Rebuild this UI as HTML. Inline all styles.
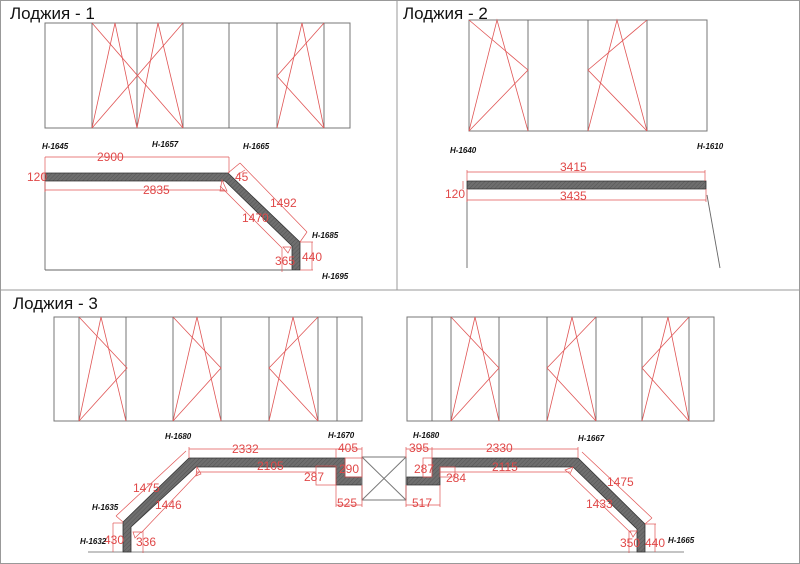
<!DOCTYPE html>
<html><head><meta charset="utf-8"><style>
html,body{margin:0;padding:0;background:#fff}
svg{display:block}
.t{font-family:"Liberation Sans",Arial,sans-serif;font-size:17px;fill:#111}
.d{font-family:"Liberation Sans",Arial,sans-serif;font-size:12px;fill:#e04848}
.h{font-family:"Liberation Sans",Arial,sans-serif;font-size:8px;font-style:italic;font-weight:bold;fill:#111}
.fr{fill:none;stroke:#777;stroke-width:1}
.r{stroke:#e05555;stroke-width:0.8;fill:none}
.dl{stroke:#e05555;stroke-width:0.7;fill:none}
.sl{fill:url(#hat);stroke:#333;stroke-width:0.8}
.k{stroke:#666;stroke-width:0.9;fill:none}
</style></head><body>
<svg width="800" height="564" viewBox="0 0 800 564" xmlns="http://www.w3.org/2000/svg">
<defs>
<pattern id="hat" width="3" height="3" patternUnits="userSpaceOnUse" patternTransform="rotate(45)">
<rect width="3" height="3" fill="#6e6e6e"/><line x1="0" y1="0" x2="0" y2="3" stroke="#555" stroke-width="1"/>
</pattern>
</defs>
<rect x="0.5" y="0.5" width="799" height="563" fill="none" stroke="#999"/>
<line x1="397" y1="0" x2="397" y2="290" stroke="#999"/>
<line x1="0" y1="290" x2="800" y2="290" stroke="#999"/>
<text class="t" x="10" y="19">Лоджия - 1</text>
<text class="t" x="403" y="19">Лоджия - 2</text>
<text class="t" x="13" y="309">Лоджия - 3</text>

<rect class="fr" x="45" y="23" width="305" height="105"/>
<g class="k"><line x1="92" y1="23" x2="92" y2="128"/><line x1="137" y1="23" x2="137" y2="128"/><line x1="183" y1="23" x2="183" y2="128"/><line x1="229" y1="23" x2="229" y2="128"/><line x1="277" y1="23" x2="277" y2="128"/><line x1="324" y1="23" x2="324" y2="128"/></g>
<g class="r">
<polyline points="92,128 115,23 137,128"/><polyline points="137,128 158,23 183,128"/>
<line x1="92" y1="23" x2="183" y2="128"/><line x1="92" y1="128" x2="183" y2="23"/>
<polyline points="277,128 302,23 324,128"/><polyline points="324,23 277,76 324,128"/>
</g>

<polygon class="sl" points="45,173 228,173 300,242 300,270 292,270 292,246 225,181 45,181"/>
<line class="k" x1="45" y1="181" x2="45" y2="270"/><line class="k" x1="45" y1="270" x2="292" y2="270"/>
<g class="dl">
<line x1="45" y1="157" x2="229" y2="157"/><line x1="45" y1="157" x2="45" y2="173"/><line x1="229" y1="157" x2="229" y2="173"/>
<line x1="45" y1="190" x2="225" y2="190"/><line x1="45" y1="181" x2="45" y2="192"/>
<line x1="43" y1="173" x2="43" y2="181"/>
<line x1="240" y1="163" x2="307" y2="232"/><line x1="228" y1="173" x2="240" y2="163"/><line x1="300" y1="242" x2="307" y2="232"/>
<line x1="220" y1="186" x2="282" y2="248"/><polygon points="222,180 227,191 220,191"/>
<line x1="300" y1="242" x2="313" y2="242"/><line x1="312" y1="242" x2="312" y2="270"/><line x1="300" y1="270" x2="313" y2="270"/>
<line x1="282" y1="248" x2="282" y2="272"/><polygon points="283,247 291,247 288,253"/>
<line x1="237" y1="175" x2="245" y2="170"/>
</g>
<text class="d" x="97" y="161">2900</text>
<text class="d" x="143" y="194">2835</text>
<text class="d" x="27" y="181">120</text>
<text class="d" x="235" y="181" font-size="11">45</text>
<text class="d" x="270" y="207">1492</text>
<text class="d" x="242" y="222">1470</text>
<text class="d" x="275" y="265">365</text>
<text class="d" x="302" y="261">440</text>
<text class="h" x="42" y="149">H-1645</text>
<text class="h" x="152" y="147">H-1657</text>
<text class="h" x="243" y="149">H-1665</text>
<text class="h" x="312" y="238">H-1685</text>
<text class="h" x="322" y="279">H-1695</text>

<rect class="fr" x="469" y="20" width="238" height="111"/>
<g class="k"><line x1="528" y1="20" x2="528" y2="131"/><line x1="588" y1="20" x2="588" y2="131"/><line x1="647" y1="20" x2="647" y2="131"/></g>
<g class="r">
<polyline points="469,131 497,20 528,131"/><polyline points="469,20 528,70 469,131"/>
<polyline points="588,131 617,20 647,131"/><polyline points="647,20 588,70 647,131"/>
</g>
<text class="h" x="450" y="153">H-1640</text>
<text class="h" x="697" y="149">H-1610</text>
<polygon class="sl" points="467,181 706,181 706,189 467,189"/>
<line class="k" x1="467" y1="189" x2="467" y2="268"/><line class="k" x1="707" y1="195" x2="720" y2="268"/>
<g class="dl">
<line x1="467" y1="172" x2="705" y2="172"/><line x1="467" y1="170" x2="467" y2="181"/><line x1="705" y1="170" x2="705" y2="181"/>
<line x1="467" y1="200" x2="706" y2="200"/><line x1="467" y1="189" x2="467" y2="202"/><line x1="706" y1="189" x2="706" y2="202"/>
<line x1="463" y1="181" x2="463" y2="189"/>
</g>
<text class="d" x="560" y="171">3415</text>
<text class="d" x="560" y="200">3435</text>
<text class="d" x="445" y="198">120</text>

<rect class="fr" x="54" y="317" width="308" height="104"/>
<g class="k"><line x1="79" y1="317" x2="79" y2="421"/><line x1="126" y1="317" x2="126" y2="421"/><line x1="173" y1="317" x2="173" y2="421"/><line x1="221" y1="317" x2="221" y2="421"/><line x1="269" y1="317" x2="269" y2="421"/><line x1="318" y1="317" x2="318" y2="421"/><line x1="337" y1="317" x2="337" y2="421"/></g>
<g class="r">
<polyline points="79,421 101,317 126,421"/><polyline points="79,317 127,368 79,421"/>
<polyline points="173,421 197,317 221,421"/><polyline points="173,317 221,368 173,421"/>
<polyline points="269,421 293,317 318,421"/><polyline points="318,317 269,368 318,421"/>
</g>
<rect class="fr" x="407" y="317" width="307" height="104"/>
<g class="k"><line x1="432" y1="317" x2="432" y2="421"/><line x1="451" y1="317" x2="451" y2="421"/><line x1="499" y1="317" x2="499" y2="421"/><line x1="547" y1="317" x2="547" y2="421"/><line x1="596" y1="317" x2="596" y2="421"/><line x1="642" y1="317" x2="642" y2="421"/><line x1="689" y1="317" x2="689" y2="421"/></g>
<g class="r">
<polyline points="451,421 475,317 499,421"/><polyline points="451,317 499,368 451,421"/>
<polyline points="547,421 572,317 596,421"/><polyline points="596,317 547,368 596,421"/>
<polyline points="642,421 668,317 689,421"/><polyline points="689,317 642,368 689,421"/>
</g>

<line x1="88" y1="552" x2="684" y2="552" stroke="#888" stroke-width="1"/>
<polygon class="sl" points="123,552 123,522 189,458 345,458 345,477 362,477 362,485 336,485 336,467 196,467 131,527 131,552"/>
<polygon class="sl" points="407,477 432,477 432,458 578,458 645,524 645,552 637,552 637,529 573,467 440,467 440,485 407,485"/>
<rect x="362" y="457" width="44" height="43" fill="none" stroke="#777"/>
<line x1="362" y1="457" x2="406" y2="500" stroke="#777"/><line x1="362" y1="500" x2="406" y2="457" stroke="#777"/>
<g class="dl">
<line x1="189" y1="449" x2="362" y2="449"/><line x1="189" y1="447" x2="189" y2="458"/><line x1="362" y1="447" x2="362" y2="458"/><line x1="336" y1="449" x2="336" y2="458"/>
<line x1="196" y1="472" x2="316" y2="472"/><polygon points="197,467 201,474 196,476"/>
<rect x="316" y="466" width="20" height="19"/>
<rect x="345" y="458" width="17" height="19"/>
<line x1="336" y1="505" x2="362" y2="505"/><line x1="336" y1="485" x2="336" y2="507"/><line x1="362" y1="485" x2="362" y2="507"/>
<line x1="186" y1="451" x2="116" y2="516"/><line x1="123" y1="522" x2="116" y2="516"/>
<line x1="199" y1="472" x2="141" y2="533"/>
<line x1="113" y1="523" x2="113" y2="552"/><line x1="113" y1="523" x2="123" y2="523"/>
<line x1="143" y1="531" x2="143" y2="553"/><polygon points="133,532 141,532 135,538"/>
<line x1="432" y1="449" x2="578" y2="449"/><line x1="406" y1="447" x2="406" y2="458"/><line x1="432" y1="447" x2="432" y2="458"/><line x1="578" y1="447" x2="578" y2="458"/>
<line x1="406" y1="449" x2="432" y2="449"/>
<rect x="423" y="458" width="9" height="19"/>
<rect x="440" y="467" width="15" height="10"/>
<line x1="440" y1="472" x2="570" y2="472"/><polygon points="573,467 570,474 565,470"/>
<line x1="406" y1="505" x2="440" y2="505"/><line x1="406" y1="485" x2="406" y2="507"/><line x1="440" y1="485" x2="440" y2="507"/>
<line x1="582" y1="452" x2="652" y2="518"/><line x1="645" y1="524" x2="652" y2="518"/>
<line x1="570" y1="474" x2="631" y2="533"/>
<line x1="645" y1="524" x2="656" y2="524"/><line x1="655" y1="524" x2="655" y2="552"/>
<line x1="629" y1="531" x2="629" y2="553"/><polygon points="630,531 637,531 633,537"/>
</g>
<text class="d" x="232" y="453">2332</text>
<text class="d" x="338" y="452">405</text>
<text class="d" x="339" y="473">290</text>
<text class="d" x="257" y="470">2105</text>
<text class="d" x="304" y="481">287</text>
<text class="d" x="337" y="507">525</text>
<text class="d" x="133" y="492">1475</text>
<text class="d" x="155" y="509">1446</text>
<text class="d" x="136" y="546">336</text>
<text class="d" x="104" y="544">430</text>
<text class="d" x="409" y="452">395</text>
<text class="d" x="486" y="452">2330</text>
<text class="d" x="414" y="473">287</text>
<text class="d" x="492" y="471">2115</text>
<text class="d" x="446" y="482">284</text>
<text class="d" x="412" y="507">517</text>
<text class="d" x="607" y="486">1475</text>
<text class="d" x="586" y="508">1433</text>
<text class="d" x="620" y="547">350</text>
<text class="d" x="645" y="547">440</text>
<text class="h" x="165" y="439">H-1680</text>
<text class="h" x="328" y="438">H-1670</text>
<text class="h" x="92" y="510">H-1635</text>
<text class="h" x="80" y="544">H-1632</text>
<text class="h" x="413" y="438">H-1680</text>
<text class="h" x="578" y="441">H-1667</text>
<text class="h" x="668" y="543">H-1665</text>
</svg>
</body></html>
